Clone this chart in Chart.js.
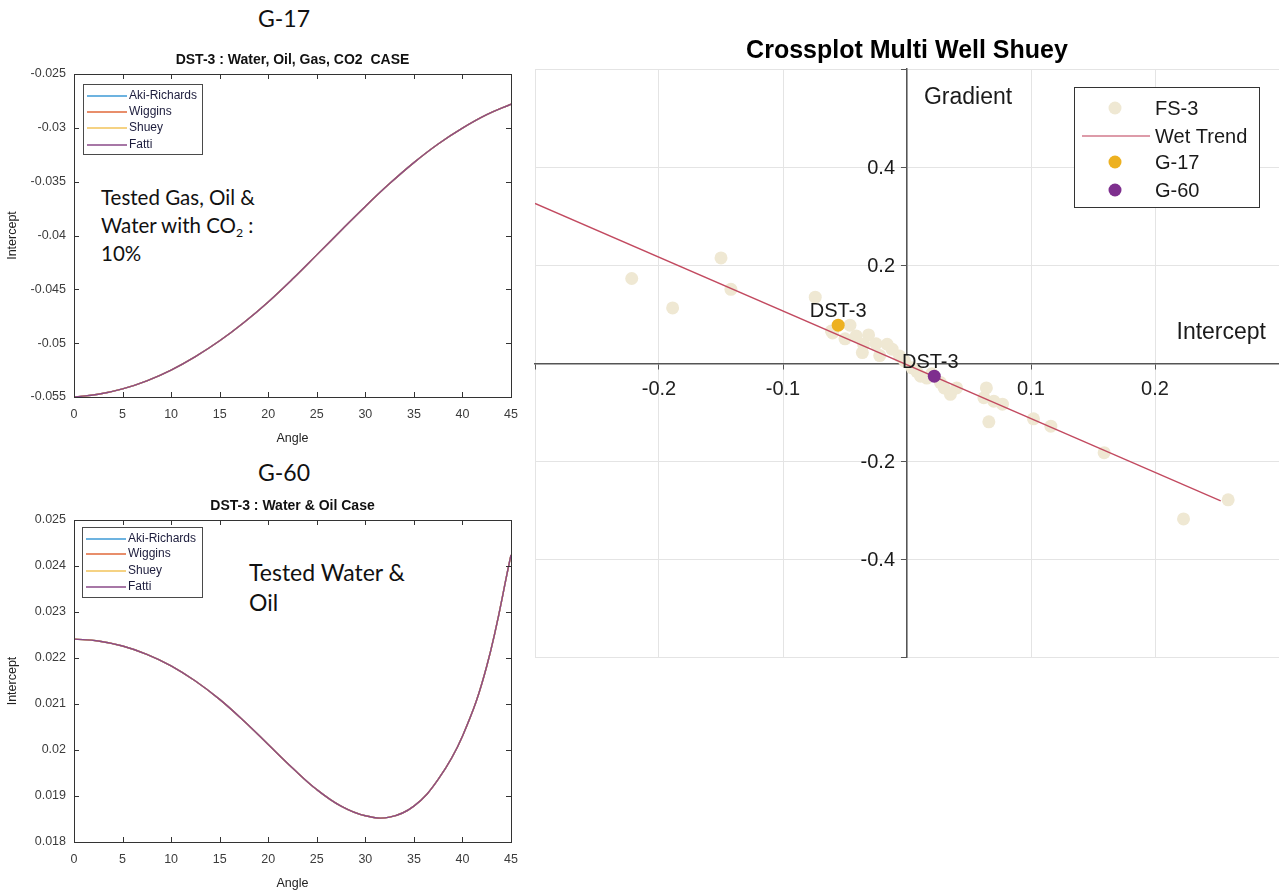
<!DOCTYPE html>
<html>
<head>
<meta charset="utf-8">
<script src="https://cdn.jsdelivr.net/npm/chart.js@4.4.0/dist/chart.umd.min.js"></script>
<style>
  body { margin: 0; background: #fff; width: 1279px; height: 891px; overflow: hidden; position: relative; }
  canvas { position: absolute; }
  .lbl { position: absolute; font-family: Lato, "Noto Sans", sans-serif; color: #111; white-space: nowrap; }
  .lbl sub { font-size: 0.6em; line-height: 0; vertical-align: -0.3em; }
</style>
</head>
<body>
<div class="lbl" style="left:258px; top:4px; font-size:23px; line-height:28px">G-17</div>
<div class="lbl" style="left:258px; top:458px; font-size:23px; line-height:28px">G-60</div>
<div class="lbl" style="left:101px; top:183px; font-size:20.5px; line-height:28px">Tested Gas, Oil &amp;<br>Water with CO<sub>2</sub> :<br>10%</div>
<div class="lbl" style="left:249px; top:557px; font-size:23px; line-height:30px">Tested Water &amp;<br>Oil</div>

<canvas id="g17" width="530" height="410" style="left:0; top:40px"></canvas>
<canvas id="g60" width="530" height="401" style="left:0; top:490px"></canvas>
<canvas id="cross" width="762" height="638" style="left:526px; top:30px"></canvas>

<script>
// ---- data ----
const models = ["Aki-Richards", "Wiggins", "Shuey", "Fatti"];
const modelColors = ["#3d9ad6", "#e0683a", "#f2c35a", "#8a4a88"];

const angles = [0, 2.5, 5, 7.5, 10, 12.5, 15, 17.5, 20, 22.5, 25, 27.5, 30, 32.5, 35, 37.5, 40, 42.5, 45];

// G-17, DST-3 : water, oil, gas, CO2 case (all four models overlap)
const g17Intercept = [-0.05500, -0.05475, -0.05425, -0.05350, -0.05250, -0.05125, -0.04978, -0.04808, -0.04617,
  -0.04405, -0.04180, -0.03953, -0.03730, -0.03518, -0.03323, -0.03150, -0.03003, -0.02878, -0.02780];

// G-60, DST-3 : water & oil case
const g60Intercept = [0.02241, 0.02237, 0.02226, 0.02208, 0.02183, 0.02150, 0.02110, 0.02063, 0.02012,
  0.01961, 0.01914, 0.01878, 0.01857, 0.01854, 0.01878, 0.01936, 0.02030, 0.02182, 0.02424];

// crossplot, intercept (x) vs gradient (y)
const fs3X = [-0.222, -0.189, -0.150, -0.142, -0.074, -0.046, -0.061, -0.060, -0.041, -0.031, -0.035, -0.036,
  -0.016, -0.012, -0.006, -0.022, -0.050, -0.025, -0.002, 0.004, 0.008, 0.011, 0.016, 0.020, 0.027, 0.030,
  0.035, 0.040, 0.064, 0.062, 0.070, 0.077, 0.066, 0.102, 0.116, 0.159, 0.223, 0.259];
const fs3Y = [0.173, 0.113, 0.215, 0.151, 0.135, 0.078, 0.066, 0.062, 0.056, 0.058, 0.039, 0.022,
  0.039, 0.029, 0.015, 0.016, 0.050, 0.040, 0.005, -0.009, -0.017, -0.026, -0.030, -0.021, -0.039, -0.050,
  -0.063, -0.050, -0.050, -0.070, -0.077, -0.083, -0.119, -0.113, -0.128, -0.182, -0.317, -0.278];
const wetTrendX = [-0.3, 0.253];
const wetTrendY = [0.326, -0.280];
const g17Point = [-0.0555, 0.078];
const g60Point = [0.022, -0.026];

// ---- helpers ----
function pairs(xs, ys) {
  return xs.map((x, i) => ({ x: x, y: ys[i] }));
}

function fmt(v) {
  return String(+v.toFixed(4));
}

const sans = "'Liberation Sans', Arial, sans-serif";

// box with inward ticks on all four sides (matlab look)
const boxAxes = {
  id: "boxAxes",
  afterDatasetsDraw(chart) {
    const { ctx, chartArea: a, scales } = chart;
    ctx.save();
    ctx.strokeStyle = "#333";
    ctx.lineWidth = 1;
    ctx.strokeRect(Math.round(a.left) + 0.5, Math.round(a.top) + 0.5, Math.round(a.width), Math.round(a.height));
    ctx.beginPath();
    scales.x.ticks.forEach(t => {
      const px = Math.round(scales.x.getPixelForValue(t.value)) + 0.5;
      ctx.moveTo(px, a.bottom); ctx.lineTo(px, a.bottom - 5);
      ctx.moveTo(px, a.top); ctx.lineTo(px, a.top + 5);
    });
    scales.y.ticks.forEach(t => {
      const py = Math.round(scales.y.getPixelForValue(t.value)) + 0.5;
      ctx.moveTo(a.left, py); ctx.lineTo(a.left + 5, py);
      ctx.moveTo(a.right, py); ctx.lineTo(a.right - 5, py);
    });
    ctx.stroke();
    ctx.restore();
  }
};

// small legend box inside the plot
const boxLegend = {
  id: "boxLegend",
  afterDraw(chart, args, o) {
    const { ctx, chartArea: a } = chart;
    const bx = a.left + o.x, by = a.top + o.y;
    ctx.save();
    ctx.fillStyle = "#fff";
    ctx.fillRect(bx, by, o.w, o.h);
    ctx.strokeStyle = "#4a4a4a";
    ctx.lineWidth = 1;
    ctx.strokeRect(bx + 0.5, by + 0.5, o.w, o.h);
    ctx.font = "12px " + sans;
    ctx.textBaseline = "middle";
    chart.data.datasets.forEach((ds, i) => {
      const ry = by + o.rows[i];
      ctx.strokeStyle = ds.borderColor;
      ctx.lineWidth = 1.5;
      ctx.beginPath();
      ctx.moveTo(bx + 4, ry); ctx.lineTo(bx + 44, ry);
      ctx.stroke();
      ctx.fillStyle = "#1c1c3c";
      ctx.fillText(ds.label, bx + 46, ry);
    });
    ctx.restore();
  }
};

function curveChart(id, title, values, yMin, yMax, yStep, titlePad, xHeight, xTitlePad, legend) {
  const datasets = models.map((m, i) => ({
    label: m,
    data: pairs(angles, values),
    borderColor: modelColors[i],
    borderWidth: 1.4,
    pointRadius: 0,
    tension: 0.4,
    order: models.length - i,
    fill: false
  }));
  return new Chart(document.getElementById(id), {
    type: "line",
    data: { datasets: datasets },
    options: {
      responsive: false,
      animation: false,
      layout: { padding: { left: 0, right: 19, top: 0, bottom: 0 } },
      plugins: {
        legend: { display: false },
        tooltip: { enabled: false },
        title: {
          display: true,
          fullSize: false,
          text: title,
          color: "#111",
          font: { family: sans, size: 14, weight: "bold" },
          padding: titlePad
        },
        boxLegend: legend
      },
      scales: {
        x: {
          type: "linear", min: 0, max: 45,
          afterFit: s => { s.height = xHeight; },
          grid: { display: false, drawTicks: false },
          border: { display: false },
          ticks: { stepSize: 5, padding: 10, color: "#3c3c3c", font: { family: sans, size: 12.5 } },
          title: { display: true, text: "Angle", color: "#222",
            padding: { top: 0, bottom: xTitlePad }, font: { family: sans, size: 12.5 } }
        },
        y: {
          type: "linear", min: yMin, max: yMax,
          afterFit: s => { s.width = 74; },
          grid: { display: false, drawTicks: false },
          border: { display: false },
          ticks: { stepSize: yStep, padding: 8, color: "#3c3c3c", callback: v => fmt(v),
            font: { family: sans, size: 12.5 } },
          title: { display: true, text: "Intercept", color: "#222",
            padding: { top: 5, bottom: 0 }, font: { family: sans, size: 12.5 } }
        }
      }
    },
    plugins: [boxAxes, boxLegend]
  });
}

curveChart("g17", "DST-3 : Water, Oil, Gas, CO2  CASE", g17Intercept, -0.055, -0.025, 0.005,
  { top: 11.5, bottom: 5.7 }, 53, 3.5, { x: 9, y: 10, w: 119, h: 70, rows: [12, 28, 44, 61] });
curveChart("g60", "DST-3 : Water & Oil Case", g60Intercept, 0.018, 0.025, 0.001,
  { top: 7.5, bottom: 5.7 }, 49, 0, { x: 8, y: 7, w: 120, h: 70, rows: [12, 27, 44, 60] });

// ---- crossplot ----
const crossDecor = {
  id: "crossDecor",
  afterDraw(chart) {
    const { ctx, chartArea: a, scales: { x, y } } = chart;
    const x0 = x.getPixelForValue(0), y0 = y.getPixelForValue(0);
    ctx.save();
    ctx.fillStyle = "#1a1a1a";
    ctx.textBaseline = "middle";

    // gradient tick labels, left of the axis
    ctx.font = "20px " + sans;
    ctx.textAlign = "right";
    y.ticks.forEach(t => {
      if (Math.abs(t.value) < 1e-9 || Math.abs(t.value) > 0.59) return;
      ctx.fillText(fmt(t.value), x0 - 12, y.getPixelForValue(t.value) + 1);
    });

    // axis names
    ctx.font = "23px " + sans;
    ctx.textAlign = "center";
    ctx.fillText("Gradient", x0 + 61, a.top + 29);
    ctx.textAlign = "right";
    ctx.fillText("Intercept", a.right - 13, y0 - 31);

    // well labels
    ctx.font = "20px " + sans;
    ctx.textAlign = "center";
    [2, 3].forEach(i => {
      const p = chart.getDatasetMeta(i).data[0];
      ctx.fillText("DST-3", p.x - (i === 3 ? 4 : 0), p.y - 14);
    });

    // legend
    const lx = x0 + 167, ly = a.top + 18, lw = 185, lh = 120;
    const rows = [21, 49, 75, 103];
    ctx.fillStyle = "#fff";
    ctx.fillRect(lx, ly, lw, lh);
    ctx.strokeStyle = "#333";
    ctx.lineWidth = 1;
    ctx.strokeRect(Math.round(lx) + 0.5, Math.round(ly) + 0.5, lw, lh);
    ctx.font = "20px " + sans;
    ctx.textAlign = "left";
    chart.data.datasets.forEach((ds, i) => {
      const ry = ly + rows[i];
      if (ds.showLine) {
        ctx.strokeStyle = "#d27a8c";
        ctx.lineWidth = 1.5;
        ctx.beginPath();
        ctx.moveTo(lx + 8, ry); ctx.lineTo(lx + 76, ry);
        ctx.stroke();
      } else {
        ctx.fillStyle = ds.backgroundColor;
        ctx.beginPath();
        ctx.arc(lx + 41, ry, 6.5, 0, Math.PI * 2);
        ctx.fill();
      }
      ctx.fillStyle = "#1a1a1a";
      ctx.fillText(ds.label, lx + 81, ry + 1);
    });
    ctx.restore();
  }
};

new Chart(document.getElementById("cross"), {
  type: "scatter",
  data: {
    datasets: [
      { label: "FS-3", data: pairs(fs3X, fs3Y), backgroundColor: "#efe8d3", borderWidth: 0,
        pointRadius: 6.5, order: 4 },
      { label: "Wet Trend", data: pairs(wetTrendX, wetTrendY), showLine: true, borderColor: "#c24a60",
        borderWidth: 1.3, pointRadius: 0, order: 3 },
      { label: "G-17", data: [{ x: g17Point[0], y: g17Point[1] }], backgroundColor: "#edb120", borderWidth: 0,
        pointRadius: 6.5, order: 2 },
      { label: "G-60", data: [{ x: g60Point[0], y: g60Point[1] }], backgroundColor: "#7e2f8e", borderWidth: 0,
        pointRadius: 6.5, order: 1 }
    ]
  },
  options: {
    responsive: false,
    animation: false,
    layout: { padding: { left: 0, right: 0, top: 0, bottom: 0 } },
    plugins: {
      legend: { display: false },
      tooltip: { enabled: false },
      title: {
        display: true,
        text: "Crossplot Multi Well Shuey",
        color: "#000",
        font: { family: sans, size: 25, weight: "bold" },
        padding: { top: 6, bottom: 3 }
      }
    },
    scales: {
      x: {
        type: "linear", min: -0.3, max: 0.3, position: { y: 0 },
        grid: { color: "#e4e4e4", tickLength: 5, tickColor: "#555" },
        border: { display: true, color: "#555", width: 1.5 },
        ticks: { stepSize: 0.1, padding: 9, color: "#222",
          callback: v => (Math.abs(v) < 1e-9 || Math.abs(v) > 0.29) ? "" : fmt(v),
          font: { family: sans, size: 20 } }
      },
      y: {
        type: "linear", min: -0.6, max: 0.6, position: { x: 0 },
        grid: { color: "#e4e4e4", tickLength: 5, tickColor: "#555" },
        border: { display: true, color: "#555", width: 1.5 },
        ticks: { stepSize: 0.2, callback: () => "" }
      }
    }
  },
  plugins: [crossDecor]
});
</script>
</body>
</html>
